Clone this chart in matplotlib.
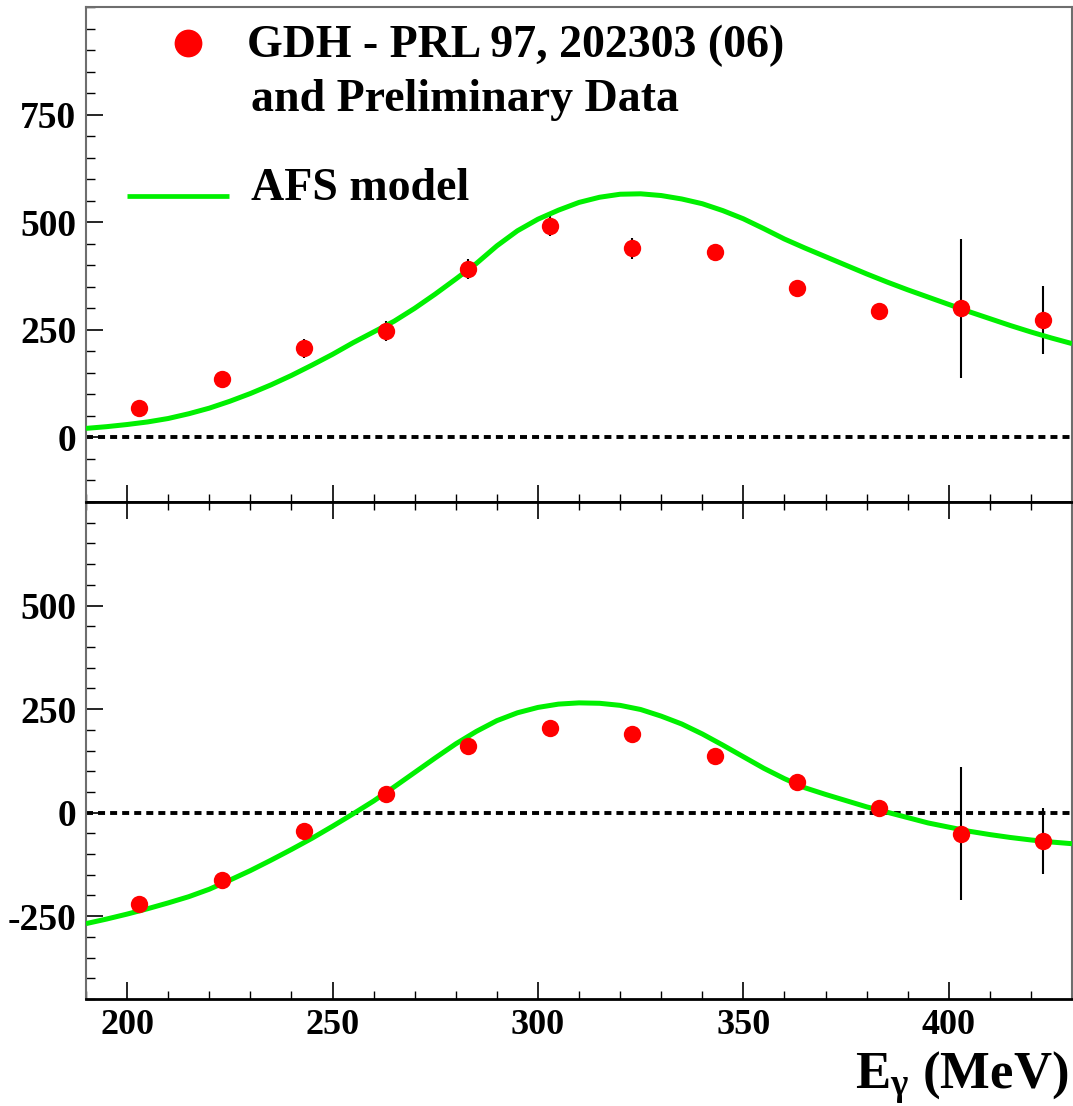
import matplotlib
matplotlib.use("Agg")
import matplotlib.pyplot as plt
from matplotlib.ticker import MultipleLocator, FixedLocator

# ---------------- data ----------------
energy = [203, 223, 243, 263, 283, 303, 323, 343, 363, 383, 403, 423]

top_vals = [68, 136, 207, 248, 392, 492, 439, 430, 347, 293, 300, 273]
top_errs = [12, 15, 22, 23, 23, 23, 24, 20, 15, 15, 162, 79]

bot_vals = [-221, -163, -45, 46, 160, 205, 189, 136, 75, 12, -51, -69]
bot_errs = [12, 12, 14, 14, 14, 14, 14, 14, 14, 14, 161, 79]

model_e = [190, 195, 200, 205, 210, 215, 220, 225, 230, 235, 240, 245, 250,
           255, 260, 265, 270, 275, 280, 285, 290, 295, 300, 305, 310, 315,
           320, 325, 330, 335, 340, 345, 350, 355, 360, 365, 370, 375, 380,
           385, 390, 395, 400, 405, 410, 415, 420, 425, 430]

top_model_v = [21, 25, 30, 36, 44, 55, 68, 84, 102, 122, 144, 168, 193,
               220, 245, 270, 300, 333, 368, 404, 445, 480, 507, 528, 546, 558,
               565, 566, 562, 554, 543, 527, 508, 485, 461, 440, 420, 400, 380,
               361, 343, 326, 309, 292, 276, 260, 245, 231, 218]

bot_model_v = [-268, -257, -245, -232, -218, -203, -185, -163, -140, -115, -89, -62, -33,
               -3, 28, 62, 97, 132, 166, 196, 222, 241, 254, 262, 265, 264,
               259, 249, 233, 214, 190, 163, 135, 107, 82, 60, 44, 29, 14,
               1, -12, -25, -35, -45, -53, -60, -66, -71, -75]

x_ticks = [200, 250, 300, 350, 400]
top_yticks = [0, 250, 500, 750]
bot_yticks = [-250, 0, 250, 500]

legend_data = ["GDH - PRL 97, 202303 (06)", "and Preliminary Data"]
legend_model = "AFS model"
xlabel = r"$\mathbf{E_{\gamma}}$ (MeV)"

# ---------------- style ----------------
FONT = "Liberation Serif"
plt.rcParams["font.family"] = [FONT, "DejaVu Serif"]
plt.rcParams["font.weight"] = "bold"
plt.rcParams["axes.unicode_minus"] = False
plt.rcParams["mathtext.fontset"] = "custom"
plt.rcParams["mathtext.rm"] = FONT + ":bold"
plt.rcParams["mathtext.it"] = FONT + ":bold"
plt.rcParams["mathtext.bf"] = FONT + ":bold"

RED = "#ff0000"
GREEN = "#00f000"
W, H = 1073, 1106

fig = plt.figure(figsize=(W / 100, H / 100), dpi=100)
left = 86 / W
right = 1072 / W
ax_top = fig.add_axes([left, 1 - 502 / H, right - left, (502 - 7) / H])
ax_bot = fig.add_axes([left, 1 - 999 / H, right - left, (999 - 502) / H])

def style(ax, ylim, yticks, show_xlabels, top_ticks):
    ax.set_xlim(190, 430)
    ax.set_ylim(*ylim)
    ax.yaxis.set_major_locator(FixedLocator(yticks))
    ax.yaxis.set_minor_locator(MultipleLocator(50))
    ax.xaxis.set_major_locator(FixedLocator(x_ticks))
    ax.xaxis.set_minor_locator(MultipleLocator(10))
    ax.tick_params(axis="y", which="both", direction="in", left=True, right=False,
                   labelsize=27, pad=7, colors="black")
    ax.tick_params(axis="y", which="major", length=12, width=1.2)
    ax.tick_params(axis="y", which="minor", length=6.5, width=1.0)
    ax.tick_params(axis="x", which="both", direction="in", bottom=True, top=top_ticks,
                   labelbottom=show_xlabels, labelsize=26, pad=7)
    ax.tick_params(axis="x", which="major", length=12, width=1.2)
    ax.tick_params(axis="x", which="minor", length=6, width=1.0)
    for lab in ax.get_yticklabels() + ax.get_xticklabels():
        lab.set_fontweight("bold")
        lab.set_family(FONT)
    for s in ("left", "top", "right"):
        ax.spines[s].set_color("#6e6e6e")
        ax.spines[s].set_linewidth(1.5)
    ax.spines["bottom"].set_color("black")
    ax.spines["bottom"].set_linewidth(2.0)
    ax.axhline(0, color="black", lw=2.8, linestyle=(0, (1.8, 1.3)), zorder=1)

style(ax_top, (-150, 1000), top_yticks, False, False)
style(ax_bot, (-450, 750), bot_yticks, True, True)
ax_bot.spines["top"].set_color("black")
ax_bot.spines["top"].set_linewidth(2.0)

# model curves
ax_top.plot(model_e, top_model_v, color=GREEN, lw=3.6, zorder=3, solid_capstyle="butt",
            solid_joinstyle="round")
ax_bot.plot(model_e, bot_model_v, color=GREEN, lw=3.6, zorder=3, solid_capstyle="butt",
            solid_joinstyle="round")

# data
for ax, v, e in ((ax_top, top_vals, top_errs), (ax_bot, bot_vals, bot_errs)):
    ax.errorbar(energy, v, yerr=e, fmt="none", ecolor="black", elinewidth=1.5,
                capsize=0, zorder=2)
    ax.plot(energy, v, "o", color=RED, markersize=12.5, markeredgewidth=0, zorder=4)

# legend (manual)
def fx(px):
    return (px - 86) / 986
def fy(py):
    return (502 - py) / 495

ax_top.plot([fx(188)], [fy(43)], "o", color=RED, markersize=20, markeredgewidth=0,
            transform=ax_top.transAxes, clip_on=False)
ax_top.text(fx(247), fy(57), legend_data[0], transform=ax_top.transAxes,
            fontsize=33, fontweight="bold", va="baseline", ha="left")
ax_top.text(fx(251), fy(111), legend_data[1], transform=ax_top.transAxes,
            fontsize=33, fontweight="bold", va="baseline", ha="left")
ax_top.plot([fx(127), fx(229)], [fy(196), fy(196)], color=GREEN, lw=3.4,
            transform=ax_top.transAxes, solid_capstyle="butt")
ax_top.text(fx(251), fy(200), legend_model, transform=ax_top.transAxes,
            fontsize=33, fontweight="bold", va="baseline", ha="left")

# x-axis title
fig.text(1068 / W, 1 - 1089 / H, xlabel, ha="right", va="baseline",
         fontsize=38, fontweight="bold")

fig.savefig("out.png", dpi=100)
